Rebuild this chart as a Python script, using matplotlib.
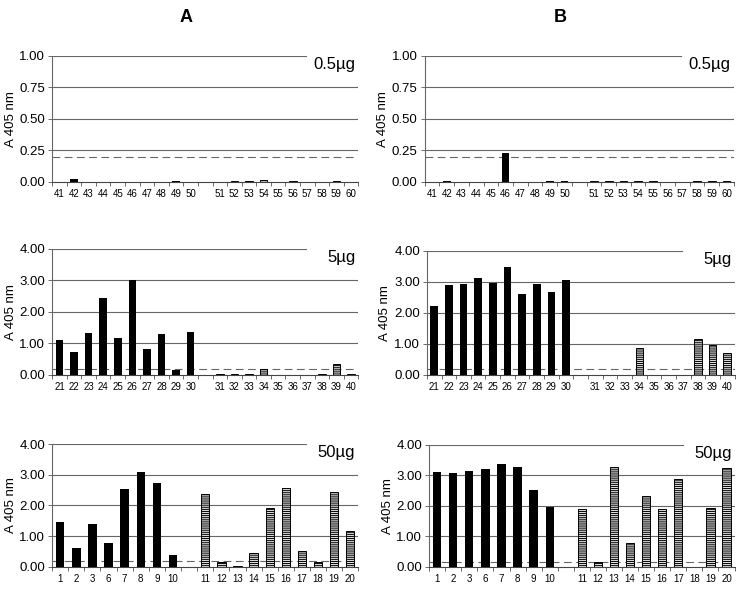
import matplotlib
matplotlib.use("Agg")
import matplotlib.pyplot as plt

plt.rcParams['font.family'] = ['Liberation Sans', 'DejaVu Sans']
plt.rcParams['hatch.linewidth'] = 0.7

# sera labels per panel (first group = black bars, second group = striped bars)
top_g1 = ["41", "42", "43", "44", "45", "46", "47", "48", "49", "50"]
top_g2 = ["51", "52", "53", "54", "55", "56", "57", "58", "59", "60"]
mid_g1 = ["21", "22", "23", "24", "25", "26", "27", "28", "29", "30"]
mid_g2 = ["31", "32", "33", "34", "35", "36", "37", "38", "39", "40"]
bot_g1 = ["1", "2", "3", "6", "7", "8", "9", "10"]
bot_g2 = ["11", "12", "13", "14", "15", "16", "17", "18", "19", "20"]

# column A values
a_top_1 = [0.0, 0.02, 0.0, 0.0, 0.0, 0.0, 0.0, 0.0, 0.005, 0.0]
a_top_2 = [0.0, 0.01, 0.005, 0.015, 0.0, 0.005, 0.0, 0.0, 0.005, 0.0]
a_mid_1 = [1.12, 0.73, 1.33, 2.43, 1.16, 3.02, 0.81, 1.30, 0.16, 1.37]
a_mid_2 = [0.01, 0.01, 0.01, 0.20, 0.0, 0.0, 0.0, 0.01, 0.33, 0.02]
a_bot_1 = [1.45, 0.63, 1.39, 0.78, 2.55, 3.09, 2.73, 0.40]
a_bot_2 = [2.39, 0.16, 0.02, 0.44, 1.93, 2.58, 0.51, 0.15, 2.44, 1.16]

# column B values
b_top_1 = [0.0, 0.005, 0.0, 0.0, 0.0, 0.23, 0.0, 0.0, 0.005, 0.005]
b_top_2 = [0.003, 0.003, 0.003, 0.003, 0.003, 0.0, 0.0, 0.003, 0.003, 0.003]
b_mid_1 = [2.22, 2.88, 2.91, 3.11, 2.96, 3.47, 2.60, 2.93, 2.66, 3.04]
b_mid_2 = [0.01, 0.01, 0.01, 0.86, 0.01, 0.01, 0.0, 1.15, 0.95, 0.71]
b_bot_1 = [3.11, 3.08, 3.15, 3.20, 3.38, 3.27, 2.53, 1.96]
b_bot_2 = [1.88, 0.17, 3.27, 0.79, 2.33, 1.88, 2.86, 0.0, 1.92, 3.22]

cutoffs = {"a_top": 0.2, "a_mid": 0.2, "a_bot": 0.19,
           "b_top": 0.2, "b_mid": 0.2, "b_bot": 0.16}


def panel(ax, g1, g2, v1, v2, ymax, tag, cutoff):
    n1, n2 = len(g1), len(g2)
    x1 = [i + 0.5 for i in range(n1)]
    x2 = [n1 + 1 + j + 0.5 for j in range(n2)]
    ax.bar(x1, v1, width=0.52, color="black", zorder=3)
    ax.bar(x2, v2, width=0.52, color="#dddddd", edgecolor="black",
           hatch="-" * 8, linewidth=0.7, zorder=3)
    ax.set_xlim(0, n1 + 1 + n2)
    ax.set_ylim(0, ymax)
    yt = [ymax * k / 4 for k in range(5)]
    ax.set_yticks(yt, ["%.2f" % t for t in yt], fontsize=9.5)
    for t in yt[1:]:
        ax.axhline(t, color="#666666", lw=0.8, zorder=1,
                   xmax=0.83 if t == ymax else 1.0)
    ax.axhline(cutoff, color="#666666", lw=0.8, ls=(0, (7, 4)), zorder=2)
    ax.set_xticks(range(n1 + n2 + 2), [""] * (n1 + n2 + 2))
    ax.set_xticks(x1 + x2, g1 + g2, minor=True, fontsize=7)
    ax.tick_params(axis="x", which="major", length=3, width=0.6, color="#555555")
    ax.tick_params(axis="x", which="minor", length=0, pad=5)
    ax.tick_params(axis="y", length=3, width=0.6, color="#555555", pad=2)
    for s in ["top", "right"]:
        ax.spines[s].set_visible(False)
    ax.spines["left"].set_color("#666666")
    ax.spines["bottom"].set_color("#444444")
    ax.spines["left"].set_linewidth(0.8)
    ax.spines["bottom"].set_linewidth(0.8)
    ax.set_ylabel("A 405 nm", fontsize=9.5, labelpad=2)
    ax.text(0.99, 0.99, tag, transform=ax.transAxes, ha="right", va="top",
            fontsize=12, zorder=5)


fig = plt.figure(figsize=(7.45, 5.94), dpi=100)

ax1 = fig.add_axes([0.070, 0.694, 0.411, 0.212])
ax2 = fig.add_axes([0.570, 0.694, 0.415, 0.212])
ax3 = fig.add_axes([0.070, 0.369, 0.411, 0.212])
ax4 = fig.add_axes([0.573, 0.369, 0.413, 0.209])
ax5 = fig.add_axes([0.070, 0.0455, 0.411, 0.207])
ax6 = fig.add_axes([0.576, 0.0455, 0.410, 0.206])

panel(ax1, top_g1, top_g2, a_top_1, a_top_2, 1.0, "0.5µg", cutoffs["a_top"])
panel(ax2, top_g1, top_g2, b_top_1, b_top_2, 1.0, "0.5µg", cutoffs["b_top"])
panel(ax3, mid_g1, mid_g2, a_mid_1, a_mid_2, 4.0, "5µg", cutoffs["a_mid"])
panel(ax4, mid_g1, mid_g2, b_mid_1, b_mid_2, 4.0, "5µg", cutoffs["b_mid"])
panel(ax5, bot_g1, bot_g2, a_bot_1, a_bot_2, 4.0, "50µg", cutoffs["a_bot"])
panel(ax6, bot_g1, bot_g2, b_bot_1, b_bot_2, 4.0, "50µg", cutoffs["b_bot"])

fig.text(186 / 745, 1 - 18 / 594, "A", ha="center", va="center",
         fontsize=13, fontweight="bold")
fig.text(560 / 745, 1 - 18 / 594, "B", ha="center", va="center",
         fontsize=13, fontweight="bold")

fig.savefig("out.png", dpi=100)
